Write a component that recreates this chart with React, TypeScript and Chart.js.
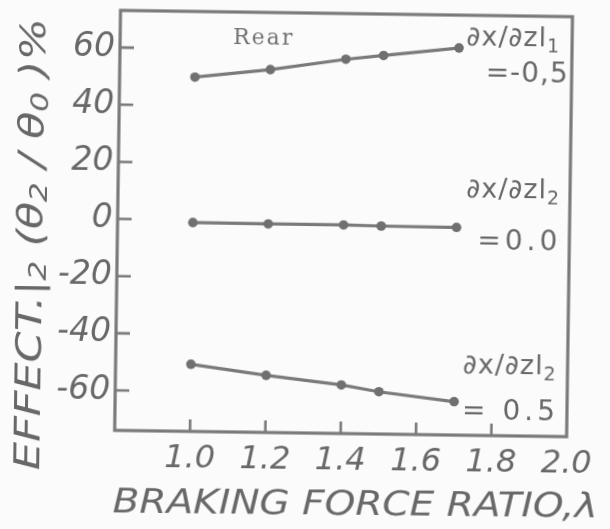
import { useEffect, useRef } from "react";
import { Chart, registerables } from "chart.js";

Chart.register(...registerables);

// Braking force ratio λ at which the effect was evaluated
const lambdaRatio = [1.0, 1.2, 1.4, 1.5, 1.7];

// Effect (θ2/θ0) in % for each gradient ∂x/∂z|
const effectGradMinus05 = [50, 53, 57, 58.5, 61.5];
const effectGradZero = [-0.9, -1.0, -1.0, -1.2, -1.3];
const effectGradPlus05 = [-50.5, -54, -57, -59.2, -62.3];

// Axis ticks
const xTickValues = [1.0, 1.2, 1.4, 1.6, 1.8, 2.0];
const yTickValues = [60, 40, 20, 0, -20, -40, -60];

// Text
const panelLabel = "Rear";
const gradientSymbol = "∂x/∂zl";
const gradientSubs = ["1", "2", "2"];
const gradientValues = ["=-0,5", "=0.0", "= 0.5"];
const xTitle = "BRAKING FORCE RATIO,λ";
const yTitleParts: [string, boolean][] = [
  ["EFFECT.|", false],
  ["2", true],
  [" (θ", false],
  ["2", true],
  [" / θ", false],
  ["0", true],
  [" )%", false],
];

const INK = "#686868";
const LINE = "#7a7a7a";
const PAPER = "#fbfbfb";
const SANS = "'DejaVu Sans', 'Noto Sans', sans-serif";

const paperPlugin = {
  id: "paperPlugin",
  beforeDraw(chart: any) {
    const { ctx, width, height } = chart;
    ctx.save();
    ctx.fillStyle = PAPER;
    ctx.fillRect(0, 0, width, height);
    ctx.restore();
  },
  beforeDatasetsDraw(chart: any) {
    const { ctx, chartArea } = chart;
    const { left, right, top, bottom } = chartArea;
    const xs = chart.scales.x;
    const ys = chart.scales.y;
    ctx.save();
    ctx.strokeStyle = LINE;
    ctx.lineWidth = 3.2;
    ctx.lineJoin = "miter";
    ctx.strokeRect(left, top, right - left, bottom - top);
    // inward tick marks
    ctx.lineWidth = 2.6;
    ctx.beginPath();
    for (const v of yTickValues) {
      const y = ys.getPixelForValue(v);
      ctx.moveTo(left, y);
      ctx.lineTo(left + 14, y);
    }
    for (const v of xTickValues) {
      if (v >= xs.max) continue;
      const x = xs.getPixelForValue(v);
      ctx.moveTo(x, bottom);
      ctx.lineTo(x, bottom - 12);
    }
    ctx.stroke();
    ctx.restore();
  },
  afterDraw(chart: any) {
    const { ctx } = chart;
    ctx.save();
    ctx.fillStyle = INK;
    ctx.textBaseline = "alphabetic";

    // panel label, typewritten
    ctx.font = "22px 'DejaVu Serif', 'Liberation Serif', serif";
    ctx.letterSpacing = "2px";
    ctx.fillStyle = "#747474";
    ctx.fillText(panelLabel, 230, 45);
    ctx.fillStyle = INK;

    // gradient notes, right aligned beside each curve
    const notes = [
      { right: 557, base: 43, vRight: 566, vBase: 79 },
      { right: 559, base: 195, vRight: 561, vBase: 247 },
      { right: 558, base: 371, vRight: 561, vBase: 417 },
    ];
    notes.forEach((n, i) => {
      ctx.letterSpacing = "1px";
      ctx.font = `27px ${SANS}`;
      const wMain = ctx.measureText(gradientSymbol).width;
      ctx.font = `19px ${SANS}`;
      const wSub = ctx.measureText(gradientSubs[i]).width;
      const x0 = n.right - wMain - wSub;
      ctx.font = `27px ${SANS}`;
      ctx.fillText(gradientSymbol, x0, n.base);
      ctx.font = `19px ${SANS}`;
      ctx.fillText(gradientSubs[i], x0 + wMain, n.base + 6);

      ctx.letterSpacing = i === 0 ? "1px" : "4px";
      ctx.font = `28px ${SANS}`;
      const wv = ctx.measureText(gradientValues[i]).width;
      ctx.fillText(gradientValues[i], n.vRight - wv, n.vBase);
    });
    ctx.letterSpacing = "0px";

    // x-axis title
    ctx.save();
    ctx.font = `italic 34px ${SANS}`;
    const wx = ctx.measureText(xTitle).width;
    ctx.translate(116, 515);
    ctx.rotate(-0.004);
    ctx.scale(485 / wx, 1);
    ctx.fillText(xTitle, 0, 0);
    ctx.restore();

    // y-axis title, reading bottom to top
    ctx.save();
    const mainFont = `italic 36px ${SANS}`;
    const subFont = `italic 25px ${SANS}`;
    let total = 0;
    const widths = yTitleParts.map(([t, sub]) => {
      ctx.font = sub ? subFont : mainFont;
      const w = ctx.measureText(t).width;
      total += w;
      return w;
    });
    ctx.translate(42, 248);
    ctx.rotate(-Math.PI / 2);
    ctx.scale(452 / total, 1);
    let cx = -total / 2;
    yTitleParts.forEach(([t, sub], i) => {
      ctx.font = sub ? subFont : mainFont;
      ctx.fillText(t, cx, sub ? 4 : 0);
      cx += widths[i];
    });
    ctx.restore();

    ctx.restore();
  },
};

function series(values: number[]) {
  return {
    data: lambdaRatio.map((x, i) => ({ x, y: values[i] })),
    borderColor: LINE,
    borderWidth: 3.2,
    pointRadius: 4.8,
    pointBackgroundColor: "#707070",
    pointBorderWidth: 0,
    tension: 0,
    fill: false,
  };
}

export default function App() {
  const ref = useRef<HTMLCanvasElement>(null);

  useEffect(() => {
    const canvas = ref.current;
    if (!canvas) return;
    const tickFont = { family: SANS, size: 33, style: "italic" as const, lineHeight: 0.3 };
    const chart = new Chart(canvas, {
      type: "line",
      data: {
        datasets: [
          series(effectGradMinus05),
          series(effectGradZero),
          series(effectGradPlus05),
        ],
      },
      options: {
        responsive: false,
        animation: false,
        devicePixelRatio: 1,
        events: [],
        layout: { padding: { top: 13, right: 41, bottom: 0, left: 0 } },
        plugins: {
          legend: { display: false },
          tooltip: { enabled: false },
          title: { display: false },
        },
        scales: {
          x: {
            type: "linear",
            min: 0.8,
            max: 2.0,
            afterBuildTicks: (s: any) => {
              s.ticks = xTickValues.map((value) => ({ value }));
            },
            afterFit: (s: any) => {
              s.height = 96;
            },
            grid: { display: false, drawTicks: false },
            border: { display: false },
            ticks: {
              color: INK,
              padding: 8,
              font: { ...tickFont, size: 32, lineHeight: 1.2 },
              autoSkip: false,
              maxRotation: 0,
              callback: (v: any) => Number(v).toFixed(1),
            },
          },
          y: {
            type: "linear",
            min: -74,
            max: 73,
            afterBuildTicks: (s: any) => {
              s.ticks = yTickValues.map((value) => ({ value }));
            },
            afterFit: (s: any) => {
              s.width = 117;
            },
            grid: { display: false, drawTicks: false },
            border: { display: false },
            ticks: {
              color: INK,
              padding: 5,
              font: tickFont,
              autoSkip: false,
              callback: (v: any) => String(v),
            },
          },
        },
      },
      plugins: [paperPlugin],
    });
    return () => chart.destroy();
  }, []);

  return (
    <div
      style={{
        position: "fixed",
        left: 0,
        top: 0,
        width: 610,
        height: 529,
        background: PAPER,
        overflow: "hidden",
      }}
    >
      <canvas
        ref={ref}
        width={610}
        height={529}
        style={{ display: "block", width: 610, height: 529, transform: "rotate(0.8deg)" }}
      />
    </div>
  );
}
